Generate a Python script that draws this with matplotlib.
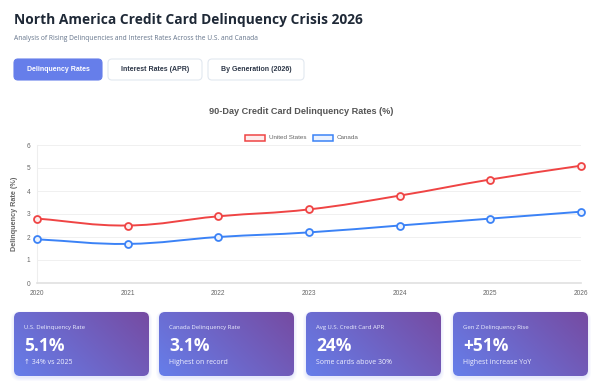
import numpy as np
import matplotlib
matplotlib.use('Agg')
import matplotlib.pyplot as plt
from matplotlib.patches import FancyBboxPatch, Rectangle
from matplotlib.path import Path
from matplotlib.patches import PathPatch
from matplotlib.colors import LinearSegmentedColormap

plt.rcParams['font.family'] = ['Liberation Sans', 'DejaVu Sans']

# data
years = [2020, 2021, 2022, 2023, 2024, 2025, 2026]
us_rate = [2.8, 2.5, 2.9, 3.2, 3.8, 4.5, 5.1]
ca_rate = [1.9, 1.7, 2.0, 2.2, 2.5, 2.8, 3.1]
tabs = ['Delinquency Rates', 'Interest Rates (APR)', 'By Generation (2026)']
card_labels = ['U.S. Delinquency Rate', 'Canada Delinquency Rate',
               'Avg U.S. Credit Card APR', 'Gen Z Delinquency Rise']
card_values = ['5.1%', '3.1%', '24%', '+51%']
card_notes = ['\u2191 34% vs 2025', 'Highest on record',
              'Some cards above 30%', 'Highest increase YoY']

W, H = 602, 385
fig = plt.figure(figsize=(W / 100, H / 100), dpi=100)
fig.patch.set_facecolor('white')

# overlay axes in pixel coordinates for the page elements
ov = fig.add_axes([0, 0, 1, 1], zorder=0)
ov.set_xlim(0, W)
ov.set_ylim(H, 0)
ov.axis('off')
ov.patch.set_alpha(0)

ui = ['Open Sans', 'DejaVu Sans']
ov.text(14, 20, 'North America Credit Card Delinquency Crisis 2026', fontsize=9.9,
        fontweight='bold', color='#1f2937', va='center', family=ui)
ov.text(14, 39, 'Analysis of Rising Delinquencies and Interest Rates Across the U.S. and Canada',
        fontsize=4.75, color='#64748b', va='center', family=ui)

tab_x = [(14, 102), (108, 202), (208, 304)]
for i, (name, (x0, x1)) in enumerate(zip(tabs, tab_x)):
    active = i == 0
    ov.add_patch(FancyBboxPatch((x0, 59), x1 - x0, 21, boxstyle='round,pad=0,rounding_size=4',
                                fc='#667eea' if active else 'white',
                                ec='#667eea' if active else '#e2e8f0', lw=0.8))
    ov.text((x0 + x1) / 2, 69.5, name, fontsize=5, fontweight='bold', ha='center', va='center',
            color='white' if active else '#2d3748')

ov.text(301, 112, '90-Day Credit Card Delinquency Rates (%)', fontsize=6.6, fontweight='bold',
        color='#555555', ha='center', va='center')

# legend
for x0, label, col, fcol in [(245, 'United States', '#ef4444', '#fdecec'),
                             (313, 'Canada', '#3b82f6', '#ebf2fe')]:
    ov.add_patch(Rectangle((x0, 134.5), 20, 6, fc=fcol, ec=col, lw=1.1))
    ov.text(x0 + 24, 137.5, label, fontsize=4.5, color='#666666', va='center')

# cards with gradient
card_x = [14, 159, 306, 453]
cw, ch, cy = 135, 64, 312
gx, gy = np.meshgrid(np.linspace(0, 1, 100), np.linspace(0, 1, 60))
grad = (gx * cw + gy * ch) / (cw + ch)
cmap = LinearSegmentedColormap.from_list('g', ['#667eea', '#764ba2'])
for x0, lab, val, note in zip(card_x, card_labels, card_values, card_notes):
    for k in range(4):
        ov.add_patch(FancyBboxPatch((x0 - k, cy + 2 - k), cw + 2 * k, ch + 2 * k,
                                    boxstyle='round,pad=0,rounding_size=%d' % (6 + k),
                                    fc='#667eea', ec='none', alpha=0.04, zorder=1))
    box = FancyBboxPatch((x0, cy), cw, ch, boxstyle='round,pad=0,rounding_size=6',
                         fc='none', ec='none', zorder=2)
    ov.add_patch(box)
    im = ov.imshow(grad, cmap=cmap, extent=(x0, x0 + cw, cy, cy + ch), origin='upper',
                   aspect='auto', zorder=2, interpolation='bilinear')
    im.set_clip_path(box)
    ov.text(x0 + 10, cy + 15, lab, fontsize=4.3, color='#eef0ff', va='center', zorder=3, family=ui)
    ov.text(x0 + 10, cy + 34, val, fontsize=12.5, fontweight='bold', color='white', va='center',
            zorder=3, family=ui)
    ov.text(x0 + 10, cy + 50, note, fontsize=5, color='#eef0ff', va='center', zorder=3, family=ui)
ov.set_xlim(0, W)
ov.set_ylim(H, 0)

# chart axes
ax = fig.add_axes([37 / W, 1 - 283 / H, (581 - 37) / W, (283 - 145) / H], zorder=2)
ax.patch.set_alpha(0)


def smooth(xs, ys, sx, sy, t=0.4):
    p = np.column_stack([np.asarray(xs, float) * sx, np.asarray(ys, float) * sy])
    n = len(p)
    cpa, cpb = [], []
    for i in range(n):
        prev = p[max(i - 1, 0)]
        nxt = p[min(i + 1, n - 1)]
        d01 = np.hypot(*(p[i] - prev))
        d12 = np.hypot(*(nxt - p[i]))
        tot = d01 + d12
        s01 = d01 / tot if tot else 0
        s12 = d12 / tot if tot else 0
        cpa.append(p[i] - t * s01 * (nxt - prev))
        cpb.append(p[i] + t * s12 * (nxt - prev))
    verts = [p[0]]
    codes = [Path.MOVETO]
    for i in range(n - 1):
        verts += [cpb[i], cpa[i + 1], p[i + 1]]
        codes += [Path.CURVE4] * 3
    verts = np.array(verts) / [sx, sy]
    return Path(verts, codes)


sx, sy = (581 - 37) / 6, (283 - 145) / 6
for vals, col, fcol in [(us_rate, '#ef4444', '#fdecec'), (ca_rate, '#3b82f6', '#ebf2fe')]:
    ax.add_patch(PathPatch(smooth(years, vals, sx, sy), fc='none', ec=col, lw=1.4, zorder=3,
                           clip_on=False))
    ax.plot(years, vals, 'o', ms=5, mfc=fcol, mec=col, mew=1.3, zorder=4, clip_on=False)

ax.set_xlim(2020, 2026)
ax.set_ylim(0, 6)
ax.set_xticks(years)
ax.set_yticks(range(7))
ax.grid(axis='y', color='#f0f0f0', lw=0.7)
ax.set_axisbelow(True)
for s in ['top', 'right']:
    ax.spines[s].set_visible(False)
ax.spines['left'].set_color('#eeeeee')
ax.spines['bottom'].set_color('#e0e0e0')
ax.spines['bottom'].set_linewidth(1.2)
ax.tick_params(length=0, labelsize=4.7, colors='#666666', pad=5)
ax.set_ylabel('Delinquency Rate (%)', fontsize=5.2, fontweight='bold', color='#666666', labelpad=6)

plt.savefig('out.png', dpi=100)
